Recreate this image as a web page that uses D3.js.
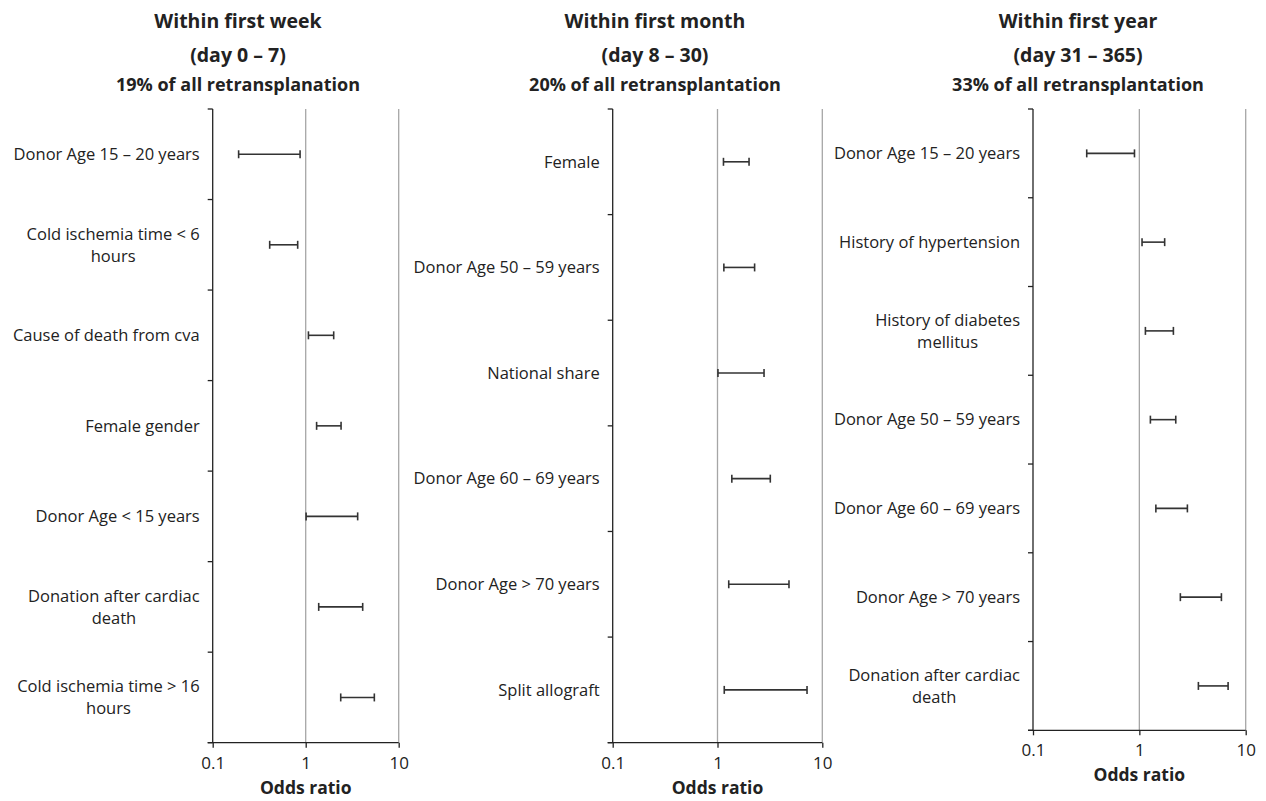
<!DOCTYPE html>
<html>
<head>
<meta charset="utf-8">
<script src="https://cdn.jsdelivr.net/npm/d3@7"></script>
<style>
  body { margin: 0; background: #fff; }
  svg { display: block; }
  text { font-family: "Open Sans", "DejaVu Sans", sans-serif; fill: #222; }
</style>
</head>
<body>
<svg id="chart" width="1266" height="801"></svg>
<script>
// panel titles
var titles = [
  ['Within first week', '(day 0 \u2013 7)', '19% of all retransplanation'],
  ['Within first month', '(day 8 \u2013 30)', '20% of all retransplantation'],
  ['Within first year', '(day 31 \u2013 365)', '33% of all retransplantation']
];

// week: categories and 95% CI of odds ratio
var weekLabels = ['Donor Age 15 \u2013 20 years', 'Cold ischemia time < 6\nhours',
                  'Cause of death from cva', 'Female gender', 'Donor Age < 15 years',
                  'Donation after cardiac\ndeath', 'Cold ischemia time > 16\nhours'];
var weekLow  = [0.19, 0.41, 1.07, 1.31, 1.01, 1.38, 2.38];
var weekHigh = [0.87, 0.82, 2.00, 2.40, 3.62, 4.10, 5.47];

// month
var monthLabels = ['Female', 'Donor Age 50 \u2013 59 years', 'National share',
                   'Donor Age 60 \u2013 69 years', 'Donor Age > 70 years', 'Split allograft'];
var monthLow  = [1.14, 1.15, 1.01, 1.37, 1.28, 1.16];
var monthHigh = [2.00, 2.26, 2.78, 3.19, 4.81, 7.15];

// year
var yearLabels = ['Donor Age 15 \u2013 20 years', 'History of hypertension',
                  'History of diabetes\nmellitus', 'Donor Age 50 \u2013 59 years',
                  'Donor Age 60 \u2013 69 years', 'Donor Age > 70 years',
                  'Donation after cardiac\ndeath'];
var yearLow  = [0.32, 1.06, 1.14, 1.27, 1.43, 2.43, 3.59];
var yearHigh = [0.90, 1.73, 2.09, 2.20, 2.83, 5.91, 6.83];

var xTicks = [0.1, 1, 10];
var xTitle = 'Odds ratio';

var panels = [
  {title: titles[0], labels: weekLabels,  lo: weekLow,  hi: weekHigh,
   left: 212.7, right: 398.7, top: 109, bottom: 742.7, titleX: 238},
  {title: titles[1], labels: monthLabels, lo: monthLow, hi: monthHigh,
   left: 612.7, right: 822.3, top: 109, bottom: 742.7, titleX: 655},
  {title: titles[2], labels: yearLabels,  lo: yearLow,  hi: yearHigh,
   left: 1033,  right: 1245.7, top: 109, bottom: 730.3, titleX: 1078}
];

var svg = d3.select('#chart');
var axisColor = '#222';

panels.forEach(function(p) {
  var g = svg.append('g');

  // titles
  g.append('text').attr('x', p.titleX).attr('y', 28)
    .attr('text-anchor', 'middle').style('font-weight', 'bold').style('font-size', '19.5px')
    .text(p.title[0]);
  g.append('text').attr('x', p.titleX).attr('y', 62)
    .attr('text-anchor', 'middle').style('font-weight', 'bold').style('font-size', '19.5px')
    .text(p.title[1]);
  g.append('text').attr('x', p.titleX).attr('y', 91)
    .attr('text-anchor', 'middle').style('font-weight', 'bold').style('font-size', '18px')
    .text(p.title[2]);

  var x = d3.scaleLog().domain([0.1, 10]).range([p.left, p.right]);
  var y = d3.scaleBand().domain(d3.range(p.labels.length)).range([p.top, p.bottom]);

  // gridlines at 1 and 10
  g.selectAll('.grid').data(xTicks.slice(1)).enter().append('line')
    .attr('x1', function(d) { return x(d); }).attr('x2', function(d) { return x(d); })
    .attr('y1', p.top).attr('y2', p.bottom)
    .attr('stroke', '#a6a6a6').attr('stroke-width', 1.3);

  // y axis line + ticks at band edges
  g.append('line').attr('x1', p.left).attr('x2', p.left)
    .attr('y1', p.top).attr('y2', p.bottom)
    .attr('stroke', axisColor).attr('stroke-width', 1.3);
  var edges = d3.range(p.labels.length + 1).map(function(i) { return p.top + i * y.step(); });
  g.selectAll('.ytick').data(edges).enter().append('line')
    .attr('x1', p.left - 5).attr('x2', p.left)
    .attr('y1', function(d) { return d; }).attr('y2', function(d) { return d; })
    .attr('stroke', axisColor).attr('stroke-width', 1.3);

  // x axis
  var xAxis = d3.axisBottom(x).tickValues(xTicks).tickSize(5)
    .tickFormat(function(d) { return String(d); });
  var ax = g.append('g').attr('transform', 'translate(0,' + p.bottom + ')').call(xAxis);
  ax.select('.domain').attr('stroke', axisColor).attr('stroke-width', 1.3)
    .attr('d', 'M' + (p.left - 5) + ',0H' + p.right);
  ax.selectAll('.tick line').attr('stroke', axisColor).attr('stroke-width', 1.3);
  ax.selectAll('.tick text').attr('y', 26).attr('dy', 0)
    .style('font-family', '"Open Sans", sans-serif').style('font-size', '17px').attr('fill', '#222');

  g.append('text').attr('x', (p.left + p.right) / 2).attr('y', p.bottom + 51)
    .attr('text-anchor', 'middle').style('font-weight', 'bold').style('font-size', '17.5px')
    .text(xTitle);

  // category labels: block right-aligned, lines centered in the block
  p.labels.forEach(function(lab, i) {
    var lines = lab.split('\n');
    var cy = y(i) + y.bandwidth() / 2;
    var lh = 22;
    var t = g.append('text').style('font-size', '16.5px').attr('text-anchor', 'middle');
    var spans = lines.map(function(s, k) {
      return t.append('tspan').attr('y', cy + (k - (lines.length - 1) / 2) * lh)
        .attr('dy', '0.35em').text(s);
    });
    var w = d3.max(spans, function(s) { return s.node().getComputedTextLength(); });
    var cx = p.left - 13 - w / 2;
    spans.forEach(function(s) { s.attr('x', cx); });
  });

  // error bars
  var idx = d3.range(p.labels.length);
  var cap = 4;
  var bars = g.selectAll('.ci').data(idx).enter().append('g');
  bars.append('line')
    .attr('x1', function(i) { return x(p.lo[i]); }).attr('x2', function(i) { return x(p.hi[i]); })
    .attr('y1', function(i) { return y(i) + y.bandwidth() / 2; })
    .attr('y2', function(i) { return y(i) + y.bandwidth() / 2; });
  bars.append('line')
    .attr('x1', function(i) { return x(p.lo[i]); }).attr('x2', function(i) { return x(p.lo[i]); })
    .attr('y1', function(i) { return y(i) + y.bandwidth() / 2 - cap; })
    .attr('y2', function(i) { return y(i) + y.bandwidth() / 2 + cap; });
  bars.append('line')
    .attr('x1', function(i) { return x(p.hi[i]); }).attr('x2', function(i) { return x(p.hi[i]); })
    .attr('y1', function(i) { return y(i) + y.bandwidth() / 2 - cap; })
    .attr('y2', function(i) { return y(i) + y.bandwidth() / 2 + cap; });
  bars.selectAll('line').attr('stroke', '#333').attr('stroke-width', 1.6);
});
</script>
</body>
</html>
